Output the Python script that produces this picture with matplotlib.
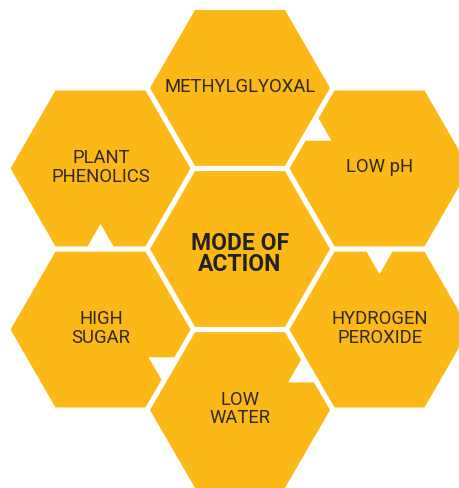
import numpy as np
import matplotlib
matplotlib.use("Agg")
import matplotlib.pyplot as plt
from matplotlib.patches import Polygon

# ---- data ----
labels = ["MODE OF\nACTION", "METHYLGLYOXAL", "LOW pH", "HYDROGEN\nPEROXIDE",
          "LOW\nWATER", "HIGH\nSUGAR", "PLANT\nPHENOLICS"]
# axial grid positions (column, row offset) of each cell in the honeycomb
grid_q = [0, 0, 1, 1, 0, -1, -1]
grid_r = [0, -1, -1, 0, 1, 1, 0]
# edge index carrying the triangular notch (None = no notch)
# edges: 0 lower-right, 1 bottom, 2 lower-left, 3 upper-left, 4 top, 5 upper-right
notch_edge = [None, None, 3, 4, 5, 0, 1]
bold = [True, False, False, False, False, False, False]

# ---- style / layout ----
W, H, DPI = 459, 488, 100
YELLOW = "#FBB817"
TEXT = "#2e2b26"
R = 90.0          # hexagon circumradius (px)
SP = 93.0         # grid spacing radius (px)
CX0, CY0 = 240.0, 249.0
NOTCH = 26.0

fig = plt.figure(figsize=(W / DPI, H / DPI), dpi=DPI)
ax = fig.add_axes([0, 0, 1, 1])
ax.set_xlim(0, W)
ax.set_ylim(H, 0)
ax.axis("off")


def hex_points(cx, cy, edge):
    ang = np.deg2rad(np.arange(6) * 60.0)
    vx = cx + R * np.cos(ang)
    vy = cy + R * np.sin(ang)
    pts = []
    for k in range(6):
        a = np.array([vx[k], vy[k]])
        b = np.array([vx[(k + 1) % 6], vy[(k + 1) % 6]])
        pts.append(a)
        if edge == k:
            m = (a + b) / 2
            u = (b - a) / np.linalg.norm(b - a)
            n = np.array([cx, cy]) - m
            n = n / np.linalg.norm(n)
            pts.append(m - u * NOTCH / 2)
            pts.append(m + n * NOTCH * np.sqrt(3) / 2)
            pts.append(m + u * NOTCH / 2)
    return np.array(pts)


for lab, q, r, e, b in zip(labels, grid_q, grid_r, notch_edge, bold):
    cx = CX0 + 1.5 * SP * q
    cy = CY0 + np.sqrt(3) * SP * (r + q / 2.0)
    ax.add_patch(Polygon(hex_points(cx, cy, e), closed=True,
                         facecolor=YELLOW, edgecolor="none"))
    if b:
        ax.text(cx, cy + 5, lab, ha="center", va="center", fontsize=16.5,
                fontweight="bold", family=["Roboto", "DejaVu Sans"],
                color="#222222", linespacing=0.88)
    else:
        ax.text(cx + 0.5, cy - 1, lab, ha="center", va="center", fontsize=13.3,
                fontweight="normal", family=["Roboto", "DejaVu Sans"],
                color=TEXT, linespacing=1.03)

fig.savefig("out.png", dpi=DPI, facecolor="white")
